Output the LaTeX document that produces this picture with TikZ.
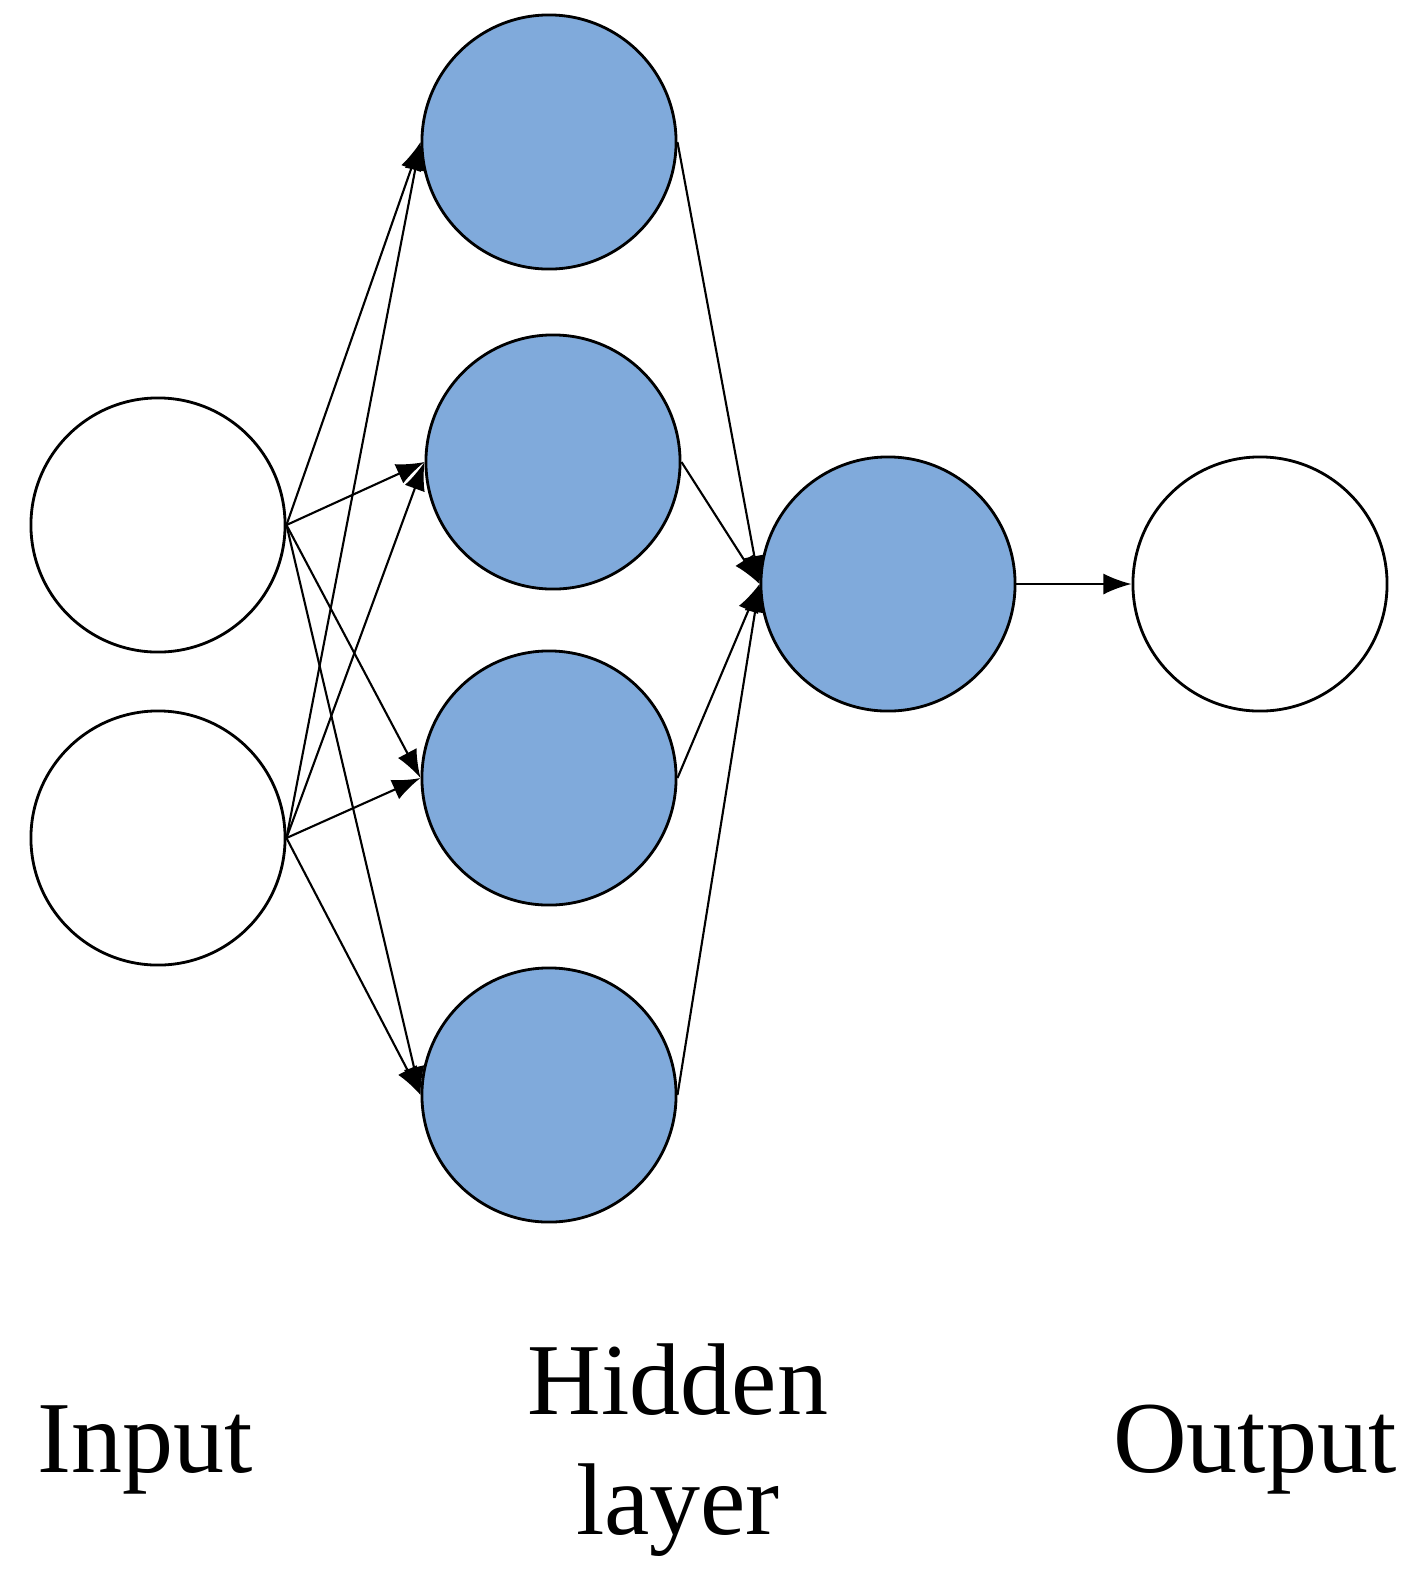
\documentclass[tikz,border=0pt]{standalone}
\usepackage{fontspec}
\setmainfont{Liberation Serif}
\usetikzlibrary{arrows.meta}
\definecolor{hid}{HTML}{80AADB}
\begin{document}
\begin{tikzpicture}[x=0.01cm,y=-0.01cm,
  neu/.style={circle,draw=black,line width=0.8pt,minimum size=2.54cm,inner sep=0pt},
  hn/.style={neu,fill=hid},
  ar/.style={-{Latex[length=8pt,width=6pt]},line width=0.6pt},
  lab/.style={font=\fontsize{29}{34}\selectfont,align=center}]
\useasboundingbox (0,0) rectangle (1419,1575);
\node[neu] (i1) at (158,525) {};
\node[neu] (i2) at (158,838) {};
\node[hn] (h1) at (549,142) {};
\node[hn] (h2) at (553,462) {};
\node[hn] (h3) at (549,778) {};
\node[hn] (h4) at (549,1095) {};
\node[hn] (m) at (888,584) {};
\node[neu] (o) at (1260,584) {};
\foreach \i in {i1,i2}{\foreach \h in {h1,h2,h3,h4}{\draw[ar] (\i.east) -- (\h.west);}}
\foreach \h in {h1,h2,h3,h4}{\draw[ar] (\h.east) -- (m.west);}
\draw[ar] (m.east) -- (o.west);
\node[lab] (t1) at (145,1450) {Input};
\node[lab] (t2) at (678,1450) {Hidden\\layer};
\node[lab] (t3) at (1255,1450) {Output};
\end{tikzpicture}
\end{document}
